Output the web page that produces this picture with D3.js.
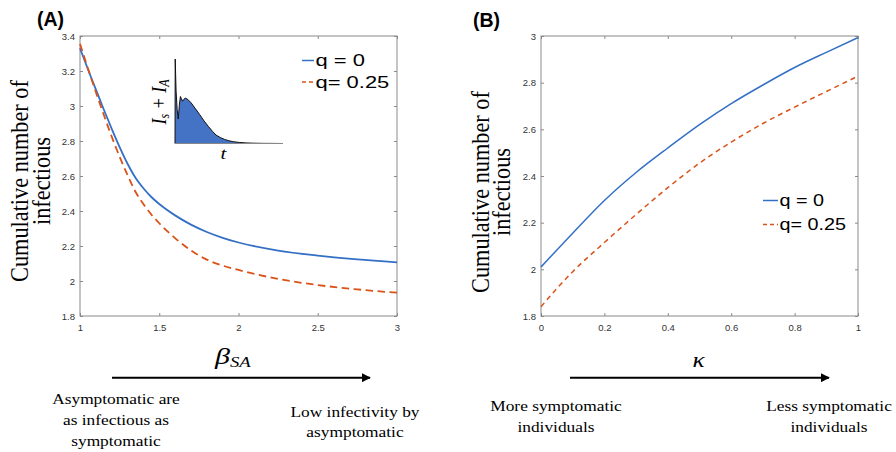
<!DOCTYPE html>
<html><head><meta charset="utf-8">
<script src="https://cdn.jsdelivr.net/npm/d3@7"></script>
<style>body{margin:0;background:#fff}svg{display:block}</style>
</head><body><svg id="c" width="896" height="452"></svg>
<script>
// ---------- data ----------
const betaSA = [1.0, 1.05, 1.1, 1.15, 1.2, 1.25, 1.3, 1.35, 1.4, 1.45, 1.5, 1.6, 1.7, 1.8, 1.9, 2.0, 2.25, 2.5, 2.75, 3.0];
const cumA_q0   = [3.33, 3.21, 3.095, 2.98, 2.87, 2.765, 2.67, 2.59, 2.53, 2.48, 2.44, 2.375, 2.322, 2.28, 2.247, 2.22, 2.174, 2.145, 2.123, 2.107];
const cumA_q025 = [3.355, 3.215, 3.08, 2.95, 2.825, 2.71, 2.605, 2.51, 2.44, 2.38, 2.33, 2.245, 2.175, 2.122, 2.088, 2.063, 2.012, 1.977, 1.952, 1.933];

const kappa = [0, 0.1, 0.2, 0.3, 0.4, 0.5, 0.6, 0.7, 0.8, 0.9, 1.0];
const cumB_q0   = [2.01, 2.155, 2.295, 2.415, 2.52, 2.62, 2.71, 2.79, 2.865, 2.93, 2.993];
const cumB_q025 = [1.84, 1.99, 2.115, 2.235, 2.35, 2.455, 2.545, 2.625, 2.695, 2.762, 2.828];

const xTicksA = [1, 1.5, 2, 2.5, 3];
const yTicksA = [1.8, 2, 2.2, 2.4, 2.6, 2.8, 3, 3.2, 3.4];
const xTicksB = [0, 0.2, 0.4, 0.6, 0.8, 1];
const yTicksB = [1.8, 2, 2.2, 2.4, 2.6, 2.8, 3];

const insetT = [0, 0.2, 1, 2, 3, 4, 5, 6, 7, 8, 9.5, 12, 15, 19, 23, 27, 31, 35, 38, 42, 46, 50, 54, 60, 66, 72, 80, 90, 100];
const insetV = [0, 1.0, 0.62, 0.4, 0.29, 0.45, 0.556, 0.53, 0.5, 0.52, 0.537, 0.52, 0.48, 0.41, 0.34, 0.265, 0.2, 0.14, 0.1, 0.07, 0.048, 0.032, 0.021, 0.012, 0.007, 0.004, 0.002, 0.001, 0];

const legendLabels = ["q = 0", "q= 0.25"];
const yLabelLines = ["Cumulative number of", "infectious"];
const panelTags = ["(A)", "(B)"];
const notesA = [["Asymptomatic are", "as infectious as", "symptomatic"], ["Low infectivity by", "asymptomatic"]];
const notesB = [["More symptomatic", "individuals"], ["Less symptomatic", "individuals"]];

// ---------- drawing ----------
const svg = d3.select("#c");
const BLUE = "#3370C5", RED = "#D95319", AXC = "#8a8a8a", TXC = "#333";
const SERIF = "Liberation Serif, Times New Roman, serif";
const SANS = "Liberation Sans, Arial, Helvetica, sans-serif";

svg.append("defs").append("marker")
  .attr("id","ah").attr("viewBox","0 0 10 10").attr("refX",9).attr("refY",5)
  .attr("markerWidth",4.5).attr("markerHeight",4.5).attr("orient","auto")
  .append("path").attr("d","M0,0L10,5L0,10Z").attr("fill","#000");

function stext(g, x, y, str, o) {
  const t = g.append("text")
    .attr("transform", `translate(${x},${y}) scale(${o.sx||1},1)` + (o.rot ? ` rotate(${o.rot})` : ""))
    .attr("text-anchor", o.anchor || "start")
    .style("font-family", o.family || SERIF)
    .attr("font-size", o.size)
    .attr("font-style", o.style || "normal")
    .attr("font-weight", o.weight || "normal")
    .attr("fill", o.fill || "#000");
  t.text(str);
  return t;
}

function panel(cfg) {
  const g = svg.append("g");
  const x = d3.scaleLinear().domain(cfg.xd).range(cfg.xr);
  const y = d3.scaleLinear().domain(cfg.yd).range(cfg.yr);
  const [x0, x1] = cfg.xr, [y0, y1] = cfg.yr;

  const ax = (sel) => { sel.select(".domain").remove();
    sel.selectAll("line").attr("stroke", AXC);
    sel.selectAll("text").attr("fill", TXC).style("font-family", SANS).attr("font-size", 9.5); };

  g.append("g").attr("transform", `translate(0,${y0})`)
    .call(d3.axisBottom(x).tickValues(cfg.xt).tickSize(-3).tickPadding(8).tickFormat(d => String(d))).call(ax);
  g.append("g").attr("transform", `translate(0,${y1})`)
    .call(d3.axisTop(x).tickValues(cfg.xt).tickSize(-3).tickFormat("")).call(ax);
  g.append("g").attr("transform", `translate(${x0},0)`)
    .call(d3.axisLeft(y).tickValues(cfg.yt).tickSize(-3).tickPadding(5).tickFormat(d => String(d))).call(ax);
  g.append("g").attr("transform", `translate(${x1},0)`)
    .call(d3.axisRight(y).tickValues(cfg.yt).tickSize(-3).tickFormat("")).call(ax);
  g.append("rect").attr("x", x0).attr("y", y1).attr("width", x1 - x0).attr("height", y0 - y1)
    .attr("fill", "none").attr("stroke", AXC).attr("stroke-width", 1);

  const line = d3.line().x(d => x(d[0])).y(d => y(d[1])).curve(d3.curveMonotoneX);
  g.append("path").datum(d3.zip(cfg.xs, cfg.s0)).attr("d", line)
    .attr("fill", "none").attr("stroke", BLUE).attr("stroke-width", cfg.lw);
  g.append("path").datum(d3.zip(cfg.xs, cfg.s1)).attr("d", line)
    .attr("fill", "none").attr("stroke", RED).attr("stroke-width", cfg.lw).attr("stroke-dasharray", cfg.dash);

  // legend
  const L = cfg.leg;
  [BLUE, RED].forEach((c, i) => {
    const ly = L.y[i];
    g.append("line").attr("x1", L.x).attr("x2", L.x + L.len).attr("y1", ly).attr("y2", ly)
      .attr("stroke", c).attr("stroke-width", 1.5).attr("stroke-dasharray", i ? "4,3" : null);
    stext(g, L.x + L.len + 1.5, ly + 5.8, legendLabels[i], {size: 16.5, family: SANS, sx: L.sx});
  });

  // y label
  yLabelLines.forEach((s, i) => stext(g, cfg.yl.x[i], cfg.yl.cy, s, {size: 22.3, anchor: "middle", sx: 1.1, rot: -90}));
  // tag
  stext(g, cfg.tag.x, cfg.tag.y, cfg.tag.s, {size: 19.5, family: SANS, weight: "bold"});

  // arrow
  g.append("line").attr("x1", cfg.arr[0]).attr("x2", cfg.arr[1]).attr("y1", 377.7).attr("y2", 377.7)
    .attr("stroke", "#000").attr("stroke-width", 2).attr("marker-end", "url(#ah)");
  // notes
  cfg.notes.forEach((lines, k) => lines.forEach((s, i) =>
    stext(g, cfg.noteX[k], cfg.noteY[k] + i * 20.7, s, {size: 15.5, anchor: "middle", sx: 1.12})));
  return {g, x, y};
}

const A = panel({xd: [1, 3], xr: [80, 397], yd: [1.8, 3.4], yr: [316, 36], xt: xTicksA, yt: yTicksA,
  xs: betaSA, s0: cumA_q0, s1: cumA_q025, lw: 1.8, dash: "7.5,4.5",
  leg: {x: 302, len: 12, y: [60.5, 82], sx: 1.33},
  yl: {x: [28, 49.5], cy: 181}, tag: {x: 37, y: 26, s: panelTags[0]},
  arr: [112, 370], notes: notesA, noteX: [116, 355], noteY: [404.3, 416.7]});

const B = panel({xd: [0, 1], xr: [541, 858], yd: [1.8, 3], yr: [316, 36], xt: xTicksB, yt: yTicksB,
  xs: kappa, s0: cumB_q0, s1: cumB_q025, lw: 1.5, dash: "5,4",
  leg: {x: 763, len: 15, y: [200.5, 224.5], sx: 1.2},
  yl: {x: [488.5, 509.5], cy: 192}, tag: {x: 473, y: 27, s: panelTags[1]},
  arr: [570, 829], notes: notesB, noteX: [556, 829], noteY: [411, 411]});

// axis symbols
const gb = A.g.append("text").attr("transform", "translate(215,364) scale(1.25,1)")
  .style("font-family", SERIF).attr("font-style", "italic").attr("font-size", 24);
gb.append("tspan").text("β");
gb.append("tspan").attr("dy", 3).attr("font-size", 15).text("SA");
stext(B.g, 698.5, 367, "κ", {size: 22, style: "italic", anchor: "middle", sx: 1.15});

// inset
const xi = d3.scaleLinear().domain([0, 100]).range([175, 283]);
const yi = d3.scaleLinear().domain([0, 1]).range([143.5, 59]);
const ig = svg.append("g");
const pts = d3.zip(insetT, insetV);
ig.append("path").datum(pts).attr("d", d3.area().x(d => xi(d[0])).y0(yi(0)).y1(d => yi(d[1])))
  .attr("fill", "#4472C4");
ig.append("path").datum(pts).attr("d", d3.line().x(d => xi(d[0])).y(d => yi(d[1])))
  .attr("fill", "none").attr("stroke", "#111").attr("stroke-width", 1);
ig.append("line").attr("x1", xi(0)).attr("x2", xi(100)).attr("y1", yi(0)).attr("y2", yi(0))
  .attr("stroke", "#888").attr("stroke-width", 1);
const il = ig.append("text").attr("transform", "translate(166,102) scale(1.15,1) rotate(-90)")
  .attr("text-anchor", "middle").style("font-family", SERIF).attr("font-style", "italic").attr("font-size", 18);
il.append("tspan").text("I");
il.append("tspan").attr("dy", 3).attr("font-size", 12).text("s");
il.append("tspan").attr("dy", -3).text(" + I");
il.append("tspan").attr("dy", 3).attr("font-size", 12).text("A");
stext(ig, 223.5, 159, "t", {size: 16, style: "italic", anchor: "middle", sx: 1.3});
</script></body></html>
